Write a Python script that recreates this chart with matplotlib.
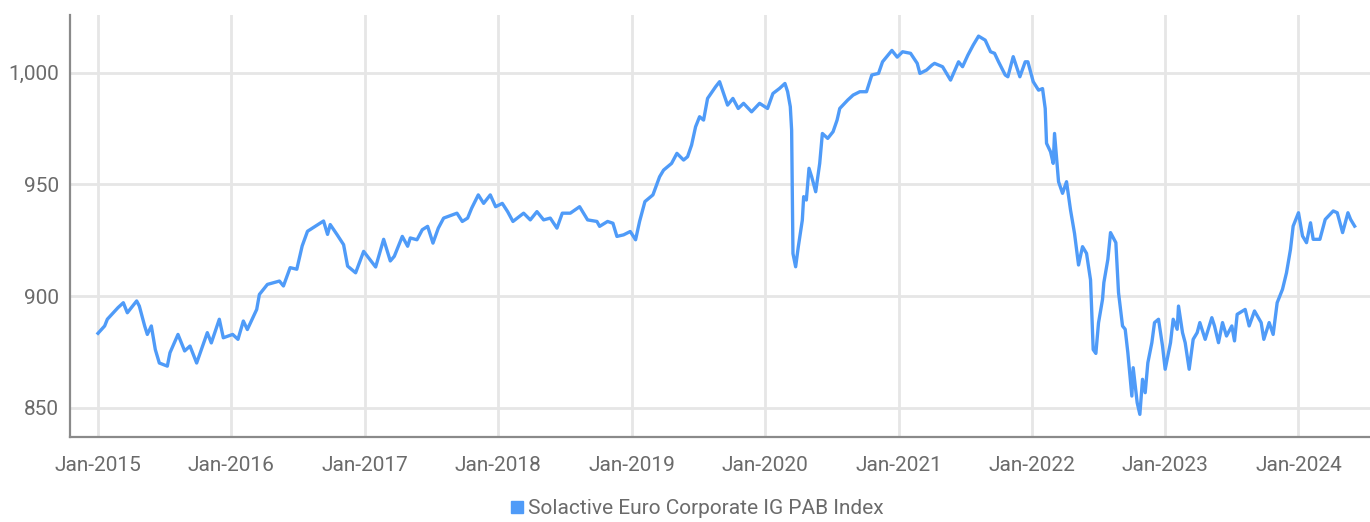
import matplotlib
matplotlib.use("Agg")
import matplotlib.pyplot as plt
import matplotlib.dates as mdates
from matplotlib.lines import Line2D
from matplotlib import font_manager
import pandas as pd

# time positions as fractional years
years = [
    2015.00, 2015.05, 2015.07, 2015.15, 2015.19, 2015.22, 2015.29, 2015.31, 2015.35, 2015.37,
    2015.40, 2015.43, 2015.46, 2015.52, 2015.54, 2015.60, 2015.65, 2015.69, 2015.74, 2015.82,
    2015.85, 2015.91, 2015.94, 2016.01, 2016.05, 2016.09, 2016.12, 2016.19, 2016.21, 2016.27,
    2016.36, 2016.39, 2016.44, 2016.49, 2016.53, 2016.57, 2016.69, 2016.72, 2016.74, 2016.79,
    2016.84, 2016.87, 2016.93, 2016.99, 2017.08, 2017.14, 2017.19, 2017.22, 2017.28, 2017.32,
    2017.34, 2017.39, 2017.43, 2017.47, 2017.51, 2017.55, 2017.59, 2017.69, 2017.73, 2017.77,
    2017.80, 2017.85, 2017.89, 2017.94, 2017.98, 2018.03, 2018.07, 2018.11, 2018.19, 2018.24,
    2018.29, 2018.34, 2018.39, 2018.44, 2018.48, 2018.54, 2018.61, 2018.67, 2018.74, 2018.76,
    2018.82, 2018.86, 2018.89, 2018.94, 2018.99, 2019.03, 2019.06, 2019.10, 2019.16, 2019.21,
    2019.24, 2019.27, 2019.30, 2019.34, 2019.39, 2019.42, 2019.45, 2019.48, 2019.51, 2019.54,
    2019.57, 2019.63, 2019.66, 2019.72, 2019.76, 2019.80, 2019.84, 2019.90, 2019.96, 2020.02,
    2020.06, 2020.11, 2020.15, 2020.17, 2020.19, 2020.20, 2020.21, 2020.23, 2020.25, 2020.28,
    2020.29, 2020.31, 2020.33, 2020.35, 2020.38, 2020.41, 2020.43, 2020.47, 2020.51, 2020.54,
    2020.56, 2020.62, 2020.66, 2020.71, 2020.76, 2020.80, 2020.85, 2020.88, 2020.95, 2020.99,
    2021.03, 2021.09, 2021.14, 2021.16, 2021.21, 2021.25, 2021.27, 2021.33, 2021.39, 2021.45,
    2021.48, 2021.52, 2021.56, 2021.60, 2021.65, 2021.69, 2021.72, 2021.75, 2021.80, 2021.82,
    2021.86, 2021.91, 2021.95, 2021.97, 2022.01, 2022.05, 2022.08, 2022.10, 2022.11, 2022.14,
    2022.16, 2022.17, 2022.20, 2022.23, 2022.26, 2022.29, 2022.32, 2022.35, 2022.38, 2022.41,
    2022.44, 2022.46, 2022.48, 2022.50, 2022.53, 2022.54, 2022.57, 2022.59, 2022.63, 2022.65,
    2022.68, 2022.70, 2022.72, 2022.75, 2022.76, 2022.79, 2022.81, 2022.83, 2022.85, 2022.87,
    2022.90, 2022.92, 2022.95, 2022.98, 2023.00, 2023.04, 2023.06, 2023.09, 2023.10, 2023.13,
    2023.15, 2023.18, 2023.21, 2023.24, 2023.26, 2023.30, 2023.35, 2023.37, 2023.40, 2023.43,
    2023.46, 2023.50, 2023.52, 2023.54, 2023.60, 2023.63, 2023.67, 2023.72, 2023.74, 2023.78,
    2023.81, 2023.84, 2023.88, 2023.91, 2023.94, 2023.96, 2024.00, 2024.03, 2024.06, 2024.09,
    2024.11, 2024.16, 2024.20, 2024.26, 2024.29, 2024.33, 2024.37, 2024.39, 2024.42,
]

index_values = [
    883.3, 886.6, 889.6, 894.8, 897.0, 892.5, 897.8, 895.5, 886.6, 882.8,
    886.6, 876.0, 870.0, 868.6, 874.6, 882.8, 875.4, 877.6, 870.0, 883.6,
    879.0, 889.6, 881.3, 882.8, 880.6, 888.8, 885.0, 894.0, 900.7, 905.2,
    906.7, 904.5, 912.7, 912.0, 922.4, 929.0, 933.6, 927.6, 932.0, 927.6,
    923.0, 913.4, 910.4, 920.0, 913.0, 925.4, 915.7, 917.8, 926.7, 922.3,
    926.0, 925.2, 929.7, 931.2, 923.7, 930.4, 934.9, 937.1, 933.4, 934.9,
    939.3, 945.3, 941.5, 945.3, 940.0, 941.5, 937.8, 933.4, 937.1, 934.1,
    937.8, 934.1, 934.9, 930.4, 937.1, 937.1, 940.0, 934.1, 933.4, 931.2,
    933.4, 932.6, 926.7, 927.4, 928.9, 925.2, 933.4, 942.3, 945.3, 953.4,
    956.4, 957.9, 959.4, 963.9, 960.9, 962.4, 967.6, 975.8, 980.3, 978.8,
    988.5, 993.7, 996.0, 985.5, 988.5, 984.0, 986.3, 982.5, 986.3, 984.0,
    990.7, 993.0, 995.2, 991.5, 984.8, 974.3, 919.0, 913.1, 922.1, 934.0,
    944.5, 943.0, 957.2, 953.4, 946.7, 959.4, 972.8, 970.6, 973.6, 978.8,
    984.0, 987.8, 990.0, 991.5, 991.5, 999.0, 999.7, 1004.9, 1010.0, 1007.0,
    1009.4, 1008.7, 1004.2, 999.7, 1001.2, 1003.4, 1004.2, 1002.7, 996.7, 1004.9,
    1002.7, 1007.9, 1012.4, 1016.4, 1014.6, 1009.4, 1008.7, 1004.9, 999.0, 998.2,
    1007.2, 998.2, 1004.9, 1004.9, 996.0, 992.2, 992.9, 984.0, 968.4, 964.6,
    959.4, 972.8, 951.2, 946.0, 951.2, 938.5, 928.0, 913.9, 922.1, 919.1,
    907.2, 876.0, 874.3, 888.0, 898.5, 906.0, 916.4, 928.4, 923.9, 901.5,
    886.6, 885.1, 874.6, 855.2, 867.9, 852.2, 847.0, 862.7, 856.7, 870.1,
    879.1, 888.1, 889.6, 877.6, 867.2, 879.1, 889.6, 885.1, 895.5, 883.6,
    879.1, 867.2, 880.6, 883.6, 888.1, 880.6, 890.3, 886.6, 879.1, 888.1,
    882.1, 886.6, 879.9, 891.8, 894.0, 886.6, 893.3, 888.1, 880.6, 888.1,
    882.8, 897.0, 903.0, 910.4, 920.9, 931.3, 937.3, 926.9, 923.9, 932.8,
    925.4, 925.4, 934.3, 938.1, 937.3, 928.4, 937.3, 934.3, 931.3,
]

y_ticks = [850, 900, 950, 1000]
series_name = "Solactive Euro Corporate IG PAB Index"


def _to_date(y):
    start = pd.Timestamp(int(y), 1, 1)
    end = pd.Timestamp(int(y) + 1, 1, 1)
    return start + (end - start) * (y - int(y))


dates = [_to_date(y) for y in years]

installed = {f.name for f in font_manager.fontManager.ttflist}
family = "Liberation Sans Narrow" if "Liberation Sans Narrow" in installed else "Roboto"
plt.rcParams["font.family"] = [family, "DejaVu Sans"]

line_color = "#4f9bf8"
text_color = "#6b6b6b"

fig = plt.figure(figsize=(13.7, 5.22), dpi=100)
ax = fig.add_axes([0.0511, 0.163, 0.9489, 0.808])

ax.plot(dates, index_values, color=line_color, lw=2.4, solid_joinstyle="round")

ax.set_xlim(_to_date(2014.79), _to_date(2024.535))
ax.set_ylim(836.9, 1025.8)
ax.set_yticks(y_ticks)
ax.yaxis.set_major_formatter(matplotlib.ticker.FuncFormatter(lambda v, p: f"{v:,.0f}"))
ax.xaxis.set_major_locator(mdates.YearLocator())
ax.xaxis.set_major_formatter(mdates.DateFormatter("%b-%Y"))

ax.grid(True, color="#e6e6e6", lw=2.0)
ax.set_axisbelow(True)
ax.tick_params(length=0, labelsize=15, colors=text_color, pad=8)
ax.tick_params(axis="x", pad=14)

for side in ("top", "right"):
    ax.spines[side].set_visible(False)
for side in ("left", "bottom"):
    ax.spines[side].set_color("#8a8a8a")
    ax.spines[side].set_linewidth(1.6)

handle = Line2D([], [], marker="s", color=line_color, linestyle="none", markersize=8)
fig.legend([handle], [series_name], loc="lower center", bbox_to_anchor=(0.508, -0.028),
           frameon=False, fontsize=15, labelcolor=text_color, handletextpad=0.1,
           handlelength=0.8)

fig.savefig("out.png", dpi=100)
